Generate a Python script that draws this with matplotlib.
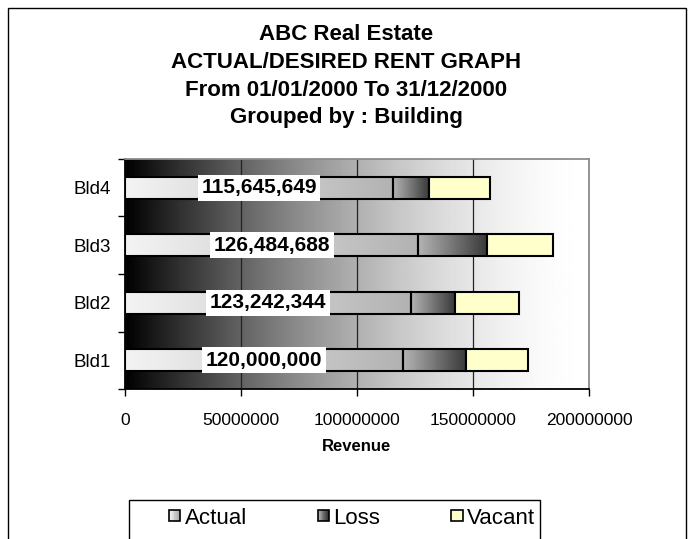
import numpy as np
import matplotlib
matplotlib.use("Agg")
import matplotlib.pyplot as plt
from matplotlib.patches import Rectangle, Patch
from matplotlib.legend_handler import HandlerBase
from matplotlib.colors import LinearSegmentedColormap

plt.rcParams['font.family'] = ['Liberation Sans', 'DejaVu Sans']

# ---- data ----
buildings = ["Bld1", "Bld2", "Bld3", "Bld4"]
actual = [120000000, 123242344, 126484688, 115645649]
loss = [26800000, 18900000, 29500000, 15400000]
vacant = [27000000, 27600000, 28300000, 26300000]
xticks = [0, 50000000, 100000000, 150000000, 200000000]
title_lines = ["ABC Real Estate", "ACTUAL/DESIRED RENT GRAPH",
               "From 01/01/2000 To 31/12/2000", "Grouped by : Building"]
legend_labels = ["Actual", "Loss", "Vacant"]

W, H = 694, 539
fig = plt.figure(figsize=(W / 100, H / 100), dpi=100)
fig.patch.set_facecolor("white")

# plot area in pixels: x 125..589, y 159..389
ax = fig.add_axes([125 / W, 1 - 389 / H, 464 / W, 230 / H])

actual_cmap = LinearSegmentedColormap.from_list("act", ["#f4f4f4", "#b2b2b2"])
loss_cmap = LinearSegmentedColormap.from_list("loss", ["#b4b4b4", "#3a3a3a"])
vacant_color = "#ffffcc"

# background: black -> white horizontal gradient
t = np.linspace(0, 1, 256)
bg = 1 - (1 - t) ** 1.7
ax.imshow(bg[np.newaxis, :], cmap="gray", vmin=0, vmax=1, aspect="auto",
          extent=[0, 200000000, -0.5, 3.5], interpolation="bilinear", zorder=0)

y = np.arange(len(buildings))
bar_h = 0.39
grad = np.linspace(0, 1, 128)[np.newaxis, :]
left_loss = np.array(actual)
left_vac = left_loss + np.array(loss)

for i in range(len(buildings)):
    # actual bar (light gradient)
    ax.imshow(grad, cmap=actual_cmap, aspect="auto", interpolation="bilinear",
              extent=[0, actual[i], y[i] - bar_h / 2, y[i] + bar_h / 2], zorder=2)
    # loss bar (dark gradient)
    ax.imshow(grad, cmap=loss_cmap, aspect="auto", interpolation="bilinear",
              extent=[left_loss[i], left_loss[i] + loss[i],
                      y[i] - bar_h / 2, y[i] + bar_h / 2], zorder=2)

ax.barh(y, actual, height=bar_h, facecolor="none", edgecolor="black", linewidth=1.5, zorder=3)
ax.barh(y, loss, left=left_loss, height=bar_h, facecolor="none", edgecolor="black",
        linewidth=1.5, zorder=3)
ax.barh(y, vacant, left=left_vac, height=bar_h, facecolor=vacant_color, edgecolor="black",
        linewidth=1.5, zorder=3)

# value labels on actual bars
for i in range(len(buildings)):
    ax.text(actual[i] / 2, y[i], f"{actual[i]:,}", ha="center", va="center",
            fontsize=15, fontweight="bold", zorder=5,
            bbox=dict(facecolor="white", edgecolor="none", pad=2.5))

ax.set_xlim(0, 200000000)
ax.set_ylim(-0.5, 3.5)
ax.set_xticks(xticks)
ax.set_xticklabels([str(v) for v in xticks])
ax.set_yticks(y)
ax.set_yticklabels(buildings)
ax.set_yticks(np.arange(-0.5, 4, 1), minor=True)
ax.tick_params(axis="y", which="major", length=0, pad=10, labelsize=13.5)
ax.tick_params(axis="y", which="minor", length=5, direction="out", width=1)
ax.tick_params(axis="x", length=5, direction="out", width=1, pad=12, labelsize=12.5)
ax.grid(axis="x", color="#222222", linewidth=0.9)
ax.set_axisbelow(True)
for g in ax.get_xgridlines():
    g.set_zorder(1)

ax.spines["left"].set_color("black")
ax.spines["bottom"].set_color("black")
ax.spines["top"].set_color("#8c8c8c")
ax.spines["right"].set_color("#8c8c8c")
for s in ax.spines.values():
    s.set_linewidth(1.3)
    s.set_zorder(6)

ax.set_xlabel("Revenue", fontsize=12, fontweight="bold", labelpad=8)

# title lines
for k, line in enumerate(title_lines):
    fig.text(346 / W, 1 - (35 + 27.5 * k) / H, line, ha="center", va="center",
             fontsize=16, fontweight="bold")

# outer border and legend frame
fig.add_artist(Rectangle((8 / W, -0.1), 678 / W, 1.1 - 8 / H, transform=fig.transFigure,
                         facecolor="none", edgecolor="black", linewidth=1, clip_on=False))
fig.add_artist(Rectangle((129 / W, -0.1), 411 / W, 0.1 + (H - 500) / H, transform=fig.transFigure,
                         facecolor="white", edgecolor="black", linewidth=1, clip_on=False))


class GradientSquare(HandlerBase):
    def __init__(self, c0, c1):
        super().__init__()
        self.c0 = np.array(matplotlib.colors.to_rgb(c0))
        self.c1 = np.array(matplotlib.colors.to_rgb(c1))

    def create_artists(self, legend, orig_handle, xdescent, ydescent, width, height,
                       fontsize, trans):
        s = min(width, height)
        x0, y0 = -xdescent + (width - s) / 2, -ydescent + (height - s) / 2
        arts = []
        n = 12
        for j in range(n):
            c = self.c0 + (self.c1 - self.c0) * j / (n - 1)
            arts.append(Rectangle((x0 + j * s / n, y0), s / n, s, facecolor=c,
                                  edgecolor="none", transform=trans))
        arts.append(Rectangle((x0, y0), s, s, facecolor="none", edgecolor="black",
                              linewidth=1.2, transform=trans))
        return arts


handles = [Patch(), Patch(), Patch()]
hmap = {handles[0]: GradientSquare("#f4f4f4", "#a8a8a8"),
        handles[1]: GradientSquare("#b4b4b4", "#303030"),
        handles[2]: GradientSquare(vacant_color, vacant_color)}
fig.legend(handles, legend_labels, handler_map=hmap, loc="center",
           bbox_to_anchor=(352 / W, 1 - 518 / H), ncol=3, frameon=False,
           fontsize=16, handlelength=0.5, handleheight=0.5, handletextpad=0.2,
           columnspacing=3.2)

fig.savefig("out.png", dpi=100, facecolor="white")
